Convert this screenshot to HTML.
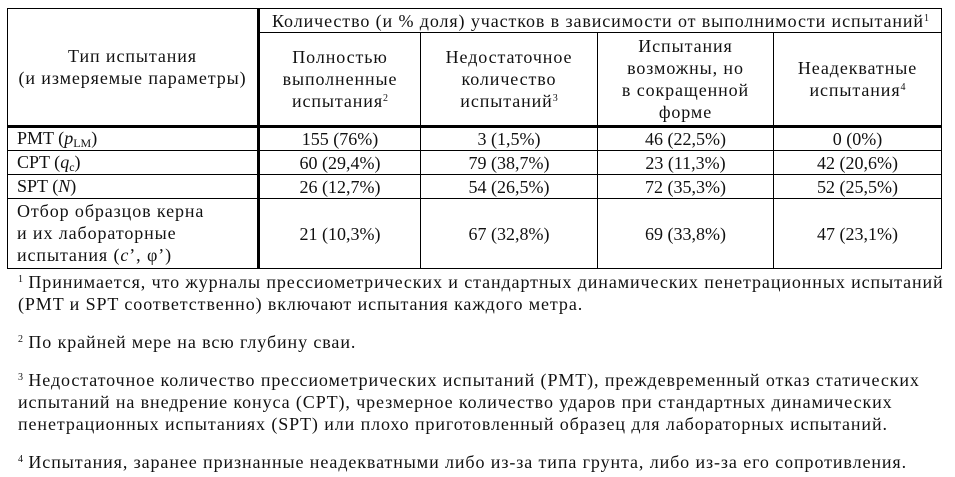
<!DOCTYPE html>
<html><head><meta charset="utf-8"><style>
body{margin:0;width:955px;height:477px;background:#fff;position:relative;overflow:hidden;font-family:"Liberation Serif","DejaVu Serif",serif;font-size:18px;color:#111;}
.l{position:absolute;background:#000;}
.c{position:absolute;display:flex;align-items:center;justify-content:center;}
.c>div{text-align:center;line-height:22px;}
.t{position:absolute;line-height:22px;white-space:nowrap;}
.r{letter-spacing:0.9px;}
sup{font-size:10px;vertical-align:6px;line-height:0;letter-spacing:0;}
sub{font-size:12px;vertical-align:-3px;line-height:0;letter-spacing:0;}
</style></head><body>
<div class="l" style="left:7px;top:8px;width:935px;height:1px"></div>
<div class="l" style="left:258px;top:32px;width:684px;height:1px"></div>
<div class="l" style="left:7px;top:125px;width:935px;height:3px"></div>
<div class="l" style="left:7px;top:150px;width:935px;height:1px"></div>
<div class="l" style="left:7px;top:174px;width:935px;height:1px"></div>
<div class="l" style="left:7px;top:198px;width:935px;height:1px"></div>
<div class="l" style="left:7px;top:268px;width:935px;height:1px"></div>
<div class="l" style="left:7px;top:8px;width:1px;height:261px"></div>
<div class="l" style="left:257px;top:8px;width:3px;height:261px"></div>
<div class="l" style="left:420px;top:32px;width:1px;height:237px"></div>
<div class="l" style="left:597px;top:32px;width:1px;height:237px"></div>
<div class="l" style="left:773px;top:32px;width:1px;height:237px"></div>
<div class="l" style="left:941px;top:8px;width:1px;height:261px"></div>
<div class="c r" style="left:8px;top:9px;width:249px;height:116px"><div>Тип испытания<br>(и измеряемые параметры)</div></div>
<div class="c r" style="left:260px;top:9px;width:681px;height:23px"><div>Количество (и % доля) участков в зависимости от выполнимости испытаний<sup>1</sup></div></div>
<div class="c r" style="left:260px;top:33px;width:160px;height:92px"><div>Полностью<br>выполненные<br>испытания<sup>2</sup></div></div>
<div class="c r" style="left:421px;top:33px;width:176px;height:92px"><div>Недостаточное<br>количество<br>испытаний<sup>3</sup></div></div>
<div class="c r" style="left:598px;top:33px;width:175px;height:92px"><div>Испытания<br>возможны, но<br>в сокращенной<br>форме</div></div>
<div class="c r" style="left:774px;top:33px;width:167px;height:92px"><div>Неадекватные<br>испытания<sup>4</sup></div></div>
<div class="t" style="left:17px;top:127px">PMT (<i>p</i><sub>LM</sub>)</div>
<div class="t" style="left:17px;top:151px">CPT (<i>q</i><sub>c</sub>)</div>
<div class="t" style="left:17px;top:175px">SPT (<i>N</i>)</div>
<div class="t r" style="left:17px;top:200px">Отбор образцов керна<br>и их лабораторные<br>испытания (<i>c</i>’, φ’)</div>
<div class="c" style="left:260px;top:127px;width:160px;height:23px"><div>155 (76%)</div></div>
<div class="c" style="left:421px;top:127px;width:176px;height:23px"><div>3 (1,5%)</div></div>
<div class="c" style="left:598px;top:127px;width:175px;height:23px"><div>46 (22,5%)</div></div>
<div class="c" style="left:774px;top:127px;width:167px;height:23px"><div>0 (0%)</div></div>
<div class="c" style="left:260px;top:151px;width:160px;height:23px"><div>60 (29,4%)</div></div>
<div class="c" style="left:421px;top:151px;width:176px;height:23px"><div>79 (38,7%)</div></div>
<div class="c" style="left:598px;top:151px;width:175px;height:23px"><div>23 (11,3%)</div></div>
<div class="c" style="left:774px;top:151px;width:167px;height:23px"><div>42 (20,6%)</div></div>
<div class="c" style="left:260px;top:175px;width:160px;height:23px"><div>26 (12,7%)</div></div>
<div class="c" style="left:421px;top:175px;width:176px;height:23px"><div>54 (26,5%)</div></div>
<div class="c" style="left:598px;top:175px;width:175px;height:23px"><div>72 (35,3%)</div></div>
<div class="c" style="left:774px;top:175px;width:167px;height:23px"><div>52 (25,5%)</div></div>
<div class="c" style="left:260px;top:199px;width:160px;height:69px"><div>21 (10,3%)</div></div>
<div class="c" style="left:421px;top:199px;width:176px;height:69px"><div>67 (32,8%)</div></div>
<div class="c" style="left:598px;top:199px;width:175px;height:69px"><div>69 (33,8%)</div></div>
<div class="c" style="left:774px;top:199px;width:167px;height:69px"><div>47 (23,1%)</div></div>
<div class="t r" style="left:18px;top:271px"><sup>1</sup> Принимается, что журналы прессиометрических и стандартных динамических пенетрационных испытаний<br>(PMT и SPT соответственно) включают испытания каждого метра.</div>
<div class="t r" style="left:18px;top:331px"><sup>2</sup> По крайней мере на всю глубину сваи.</div>
<div class="t r" style="left:18px;top:369px"><sup>3</sup> Недостаточное количество прессиометрических испытаний (PMT), преждевременный отказ статических<br>испытаний на внедрение конуса (CPT), чрезмерное количество ударов при стандартных динамических<br>пенетрационных испытаниях (SPT) или плохо приготовленный образец для лабораторных испытаний.</div>
<div class="t r" style="left:18px;top:451px"><sup>4</sup> Испытания, заранее признанные неадекватными либо из-за типа грунта, либо из-за его сопротивления.</div>
</body></html>
